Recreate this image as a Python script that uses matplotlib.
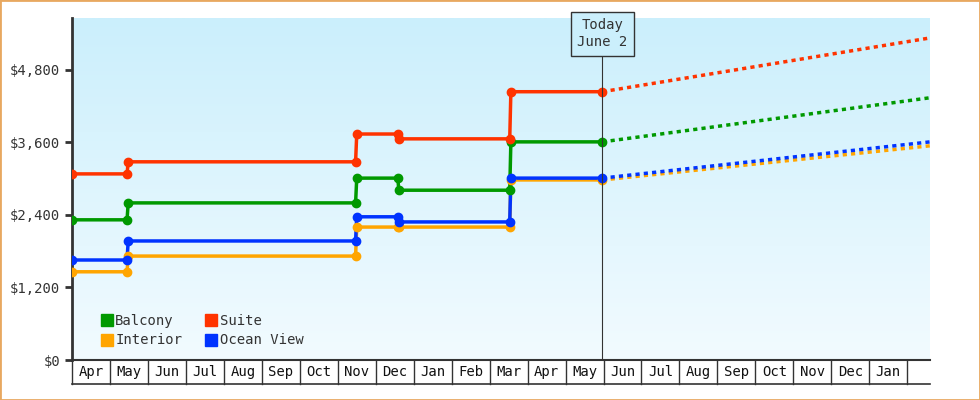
import matplotlib
matplotlib.use("Agg")
import matplotlib.pyplot as plt
import numpy as np
from matplotlib.lines import Line2D
from matplotlib.patches import Rectangle
from matplotlib.colors import LinearSegmentedColormap

# x in months since Apr 1
change_x = [0.0, 1.45, 7.47, 8.58, 11.53]
today_x = 13.97
end_x = 22.6
months = ["Apr","May","Jun","Jul","Aug","Sep","Oct","Nov","Dec","Jan","Feb","Mar","Apr","May","Jun","Jul","Aug","Sep","Oct","Nov","Dec","Jan"]

series = {
    "Balcony":    [2320, 2600, 3010, 2810, 3610],
    "Suite":      [3080, 3280, 3740, 3660, 4440],
    "Interior":   [1460, 1720, 2200, 2200, 2980],
    "Ocean View": [1655, 1970, 2370, 2285, 3010],
}
projected_end = {"Balcony": 4340, "Suite": 5330, "Interior": 3545, "Ocean View": 3610}
colors = {"Balcony": "#009900", "Suite": "#ff3300", "Interior": "#ffa500", "Ocean View": "#0033ff"}

plt.rcParams['font.family'] = ['DejaVu Sans Mono']
fig = plt.figure(figsize=(9.8, 4), dpi=100)
fig.patches.append(Rectangle((0, 0), 1, 1, transform=fig.transFigure, fill=False,
                             edgecolor="#e8a860", linewidth=2))
ax = fig.add_axes([72/980, 40/400, 858/980, 342/400])
ymax = 5660
ax.set_xlim(0, end_x)
ax.set_ylim(0, ymax)
grad = np.linspace(0, 1, 256).reshape(-1, 1)
cmap = LinearSegmentedColormap.from_list("g", ["#f2fbff", "#cbeffc"])
ax.imshow(grad, aspect="auto", cmap=cmap, origin="lower", extent=[0, end_x, 0, ymax], zorder=0)

order = ["Interior", "Ocean View", "Balcony", "Suite"]
for name in order:
    v = series[name]
    c = colors[name]
    xs, ys = [], []
    mx, my = [], []
    for i, (x, y) in enumerate(zip(change_x, v)):
        if i > 0:
            xs.append(x); ys.append(v[i-1]); mx.append(x); my.append(v[i-1])
        xs.append(x + 0.03 if i > 0 else x); ys.append(y); mx.append(x + (0.03 if i > 0 else 0)); my.append(y)
    xs.append(today_x); ys.append(v[-1]); mx.append(today_x); my.append(v[-1])
    ax.plot(xs, ys, color=c, lw=2.5, zorder=3)
    ax.plot(mx, my, 'o', color=c, ms=6, zorder=4)
    ax.plot([today_x, end_x], [v[-1], projected_end[name]], color=c, lw=2.5, ls=(0, (1.2, 1.2)), zorder=3)

ax.axvline(today_x, color="#333333", lw=0.8, zorder=5)
ax.text(today_x, ymax + 0, "Today\nJune 2", ha="center", va="top", fontsize=10, color="#333333",
        bbox=dict(boxstyle="square,pad=0.45", fc="#cbeffc", ec="#333333", lw=1), zorder=6,
        linespacing=1.3, clip_on=False)

ax.set_yticks(np.arange(0, 4801, 1200))
ax.set_yticklabels([f"${t:,.0f}" for t in np.arange(0, 4801, 1200)], fontsize=10, color="#333333")
ax.tick_params(axis="y", length=5, width=2, color="#333333")
ax.set_xticks([])
for s in ["top", "right"]:
    ax.spines[s].set_visible(False)
ax.spines["left"].set_linewidth(2)
ax.spines["left"].set_color("#333333")
ax.spines["bottom"].set_linewidth(1.5)
ax.spines["bottom"].set_color("#333333")

trans = ax.get_xaxis_transform()
cell_h = -0.07
for i, m in enumerate(months):
    ax.text(i + 0.5, -0.035, m, transform=trans, ha="center", va="center", fontsize=10, color="#111111", clip_on=False)
for i in range(len(months) + 1):
    ax.plot([i, i], [0, cell_h], transform=trans, color="#333333", lw=1, clip_on=False)
ax.plot([0, end_x], [cell_h, cell_h], transform=trans, color="#333333", lw=1.2, clip_on=False)

handles = [Line2D([], [], marker='s', ls='', color=colors[n], ms=9) for n in ["Balcony", "Interior", "Suite", "Ocean View"]]
leg = ax.legend(handles, ["Balcony", "Interior", "Suite", "Ocean View"], ncol=2, loc="lower left",
          bbox_to_anchor=(0.018, 0.0), frameon=False, fontsize=10, handletextpad=0.1,
          columnspacing=1.6, labelspacing=0.4, handlelength=1)
for t in leg.get_texts():
    t.set_color("#333333")

fig.savefig("out.png", dpi=100)
